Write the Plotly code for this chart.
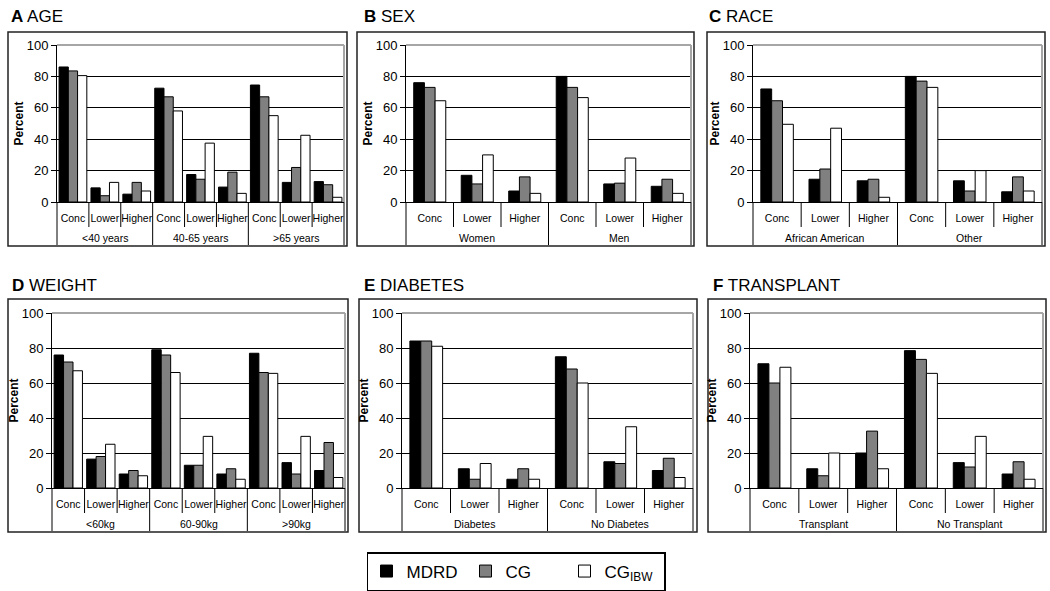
import plotly.graph_objects as go

W, H = 1050, 591
FONT = "Arial, Liberation Sans, sans-serif"

SUBS = ["Conc", "Lower", "Higher"]
SERIES = ["MDRD", "CG", "CG<sub>IBW</sub>"]
COLORS = ["#000000", "#808080", "#ffffff"]

# Panel A: AGE
age_groups = ["<40 years", "40-65 years", ">65 years"]
age_mdrd = [86, 9, 5, 72.5, 17.5, 9.5, 74.5, 12.5, 13]
age_cg = [83.5, 4, 12.5, 67, 14.5, 19, 67, 22, 11]
age_ibw = [80.5, 12.5, 7, 58, 37.5, 5.5, 55, 42.5, 3]

# Panel B: SEX
sex_groups = ["Women", "Men"]
sex_mdrd = [76, 17, 7, 80, 11.5, 10]
sex_cg = [73, 11.5, 16, 73, 12, 14.5]
sex_ibw = [64.5, 30, 5.5, 66.5, 28, 5.5]

# Panel C: RACE
race_groups = ["African American", "Other"]
race_mdrd = [72, 14.5, 13.5, 80, 13.5, 6.5]
race_cg = [64.5, 21, 14.5, 77, 7, 16]
race_ibw = [49.5, 47, 3, 73, 20, 7]

# Panel D: WEIGHT
weight_groups = ["<60kg", "60-90kg", ">90kg"]
weight_mdrd = [76, 16.5, 8, 79, 13, 8, 77, 14.5, 10]
weight_cg = [72, 18, 10, 76, 13, 11, 66, 8, 26]
weight_ibw = [67, 25, 7, 66, 29.5, 5, 65.5, 29.5, 6]

# Panel E: DIABETES
diab_groups = ["Diabetes", "No Diabetes"]
diab_mdrd = [84, 11, 5, 75, 15, 10]
diab_cg = [84, 5, 11, 68, 14, 17]
diab_ibw = [81, 14, 5, 60, 35, 6]

# Panel F: TRANSPLANT
tx_groups = ["Transplant", "No Transplant"]
tx_mdrd = [71, 11, 20, 78.5, 14.5, 8]
tx_cg = [60, 7, 32.5, 73.5, 12, 15]
tx_ibw = [69, 20, 11, 65.5, 29.5, 5]

Y_TICKS = [0, 20, 40, 60, 80, 100]

panels = [
    dict(letter="A", name="AGE", groups=age_groups, vals=[age_mdrd, age_cg, age_ibw],
         plot=(57, 344, 45, 202), frame=(8, 347, 32, 246), title=(9, 16)),
    dict(letter="B", name="SEX", groups=sex_groups, vals=[sex_mdrd, sex_cg, sex_ibw],
         plot=(406, 691, 45, 202), frame=(357, 694, 32, 246), title=(362, 16)),
    dict(letter="C", name="RACE", groups=race_groups, vals=[race_mdrd, race_cg, race_ibw],
         plot=(753, 1042, 45, 202), frame=(707, 1045, 32, 246), title=(707, 16)),
    dict(letter="D", name="WEIGHT", groups=weight_groups, vals=[weight_mdrd, weight_cg, weight_ibw],
         plot=(52, 345, 313, 488), frame=(8, 348, 299, 532), title=(10, 285)),
    dict(letter="E", name="DIABETES", groups=diab_groups, vals=[diab_mdrd, diab_cg, diab_ibw],
         plot=(402, 693, 313, 488), frame=(359, 697, 299, 532), title=(362, 285)),
    dict(letter="F", name="TRANSPLANT", groups=tx_groups, vals=[tx_mdrd, tx_cg, tx_ibw],
         plot=(750, 1043, 313, 488), frame=(708, 1046, 299, 532), title=(711, 285)),
]


def px(x):
    return x / W


def py(y):
    return 1 - y / H


fig = go.Figure()
layout = dict(
    width=W, height=H, margin=dict(l=0, r=0, t=0, b=0, autoexpand=False),
    paper_bgcolor="white", plot_bgcolor="white",
    font=dict(family=FONT, color="black"),
    barmode="group", showlegend=True,
)
shapes = []
annotations = []

for i, p in enumerate(panels):
    k = i + 1
    xa = "x" if k == 1 else f"x{k}"
    ya = "y" if k == 1 else f"y{k}"
    keys = [f"{g}|{s}" for g in p["groups"] for s in SUBS]
    labels = [s for _ in p["groups"] for s in SUBS]
    n = len(keys)
    bw = 0.29 if len(p["groups"]) == 3 else 0.225
    for s in range(3):
        fig.add_trace(go.Bar(
            x=keys, y=p["vals"][s], name=SERIES[s],
            xaxis=xa, yaxis=ya,
            width=bw, offset=(-1.5 + s) * bw,
            marker=dict(color=COLORS[s], line=dict(color="black", width=1)),
            legendgroup=SERIES[s], showlegend=(i == 0),
        ))
    x0, x1, y0, y1 = p["plot"]
    ph = y1 - y0
    layout["xaxis" if k == 1 else f"xaxis{k}"] = dict(
        type="category", domain=[px(x0), px(x1)], anchor=ya,
        categoryorder="array", categoryarray=keys,
        range=[-0.5, n - 0.5],
        tickvals=keys, ticktext=labels,
        showline=True, linecolor="black", linewidth=1,
        ticks="", tickangle=0, ticklabelstandoff=6,
        tickfont=dict(size=10.5, color="black", family=FONT),
        showgrid=False, zeroline=False,
    )
    layout["yaxis" if k == 1 else f"yaxis{k}"] = dict(
        domain=[py(y1), py(y0)], anchor=xa, range=[0, 100],
        tickvals=Y_TICKS, showgrid=True, gridcolor="black", gridwidth=1,
        showline=True, linecolor="black", linewidth=1,
        ticks="outside", ticklen=5, tickcolor="black",
        tickfont=dict(size=13, color="black", family=FONT),
        zeroline=False,
        title=dict(text="<b>Percent</b>", font=dict(size=12, family=FONT), standoff=0),
    )
    # category separators: short ones between sub-categories, long ones between groups
    for j in range(0, n + 1):
        depth = 43 if j % len(SUBS) == 0 else 25
        shapes.append(dict(type="line", xref=f"{xa} domain", yref=f"{ya} domain",
                           x0=j / n, x1=j / n, y0=0, y1=-depth / ph,
                           line=dict(color="black", width=1), layer="above"))
    # group labels, centred under the middle sub-category of each group
    for g in p["groups"]:
        annotations.append(dict(text=g, xref=xa, yref=f"{ya} domain",
                                x=f"{g}|{SUBS[1]}", y=-36 / ph, xanchor="center", yanchor="middle",
                                showarrow=False, font=dict(size=10.5, family=FONT, color="black")))
    # gray top and right border of the plotting area
    shapes.append(dict(type="line", xref=f"{xa} domain", yref=f"{ya} domain",
                       x0=0, x1=1, y0=1, y1=1, line=dict(color="#a6a6a6", width=2), layer="above"))
    shapes.append(dict(type="line", xref=f"{xa} domain", yref=f"{ya} domain",
                       x0=1, x1=1, y0=0, y1=1, line=dict(color="#a6a6a6", width=2), layer="above"))
    # panel frame
    fx0, fx1, fy0, fy1 = p["frame"]
    shapes.append(dict(type="rect", xref="paper", yref="paper",
                       x0=px(fx0), x1=px(fx1), y0=py(fy1), y1=py(fy0),
                       line=dict(color="#222222", width=1.5), layer="below"))
    tx, ty = p["title"]
    annotations.append(dict(text=f"<b>{p['letter']}</b> {p['name']}", xref="paper", yref="paper",
                            x=px(tx), y=py(ty), xanchor="left", yanchor="middle", showarrow=False,
                            font=dict(size=17, family=FONT, color="black")))

layout["shapes"] = shapes
layout["annotations"] = annotations
layout["legend"] = dict(
    orientation="h", x=px(516), xanchor="center", y=py(552), yanchor="top",
    bordercolor="black", borderwidth=1.5, bgcolor="white",
    font=dict(size=17, family=FONT, color="black"),
    entrywidth=54, tracegroupgap=0,
)
fig.update_layout(**layout)
fig.write_html("out.html", config={"displayModeBar": False},
               post_script="document.body.style.margin='0';document.body.style.overflow='hidden';")
